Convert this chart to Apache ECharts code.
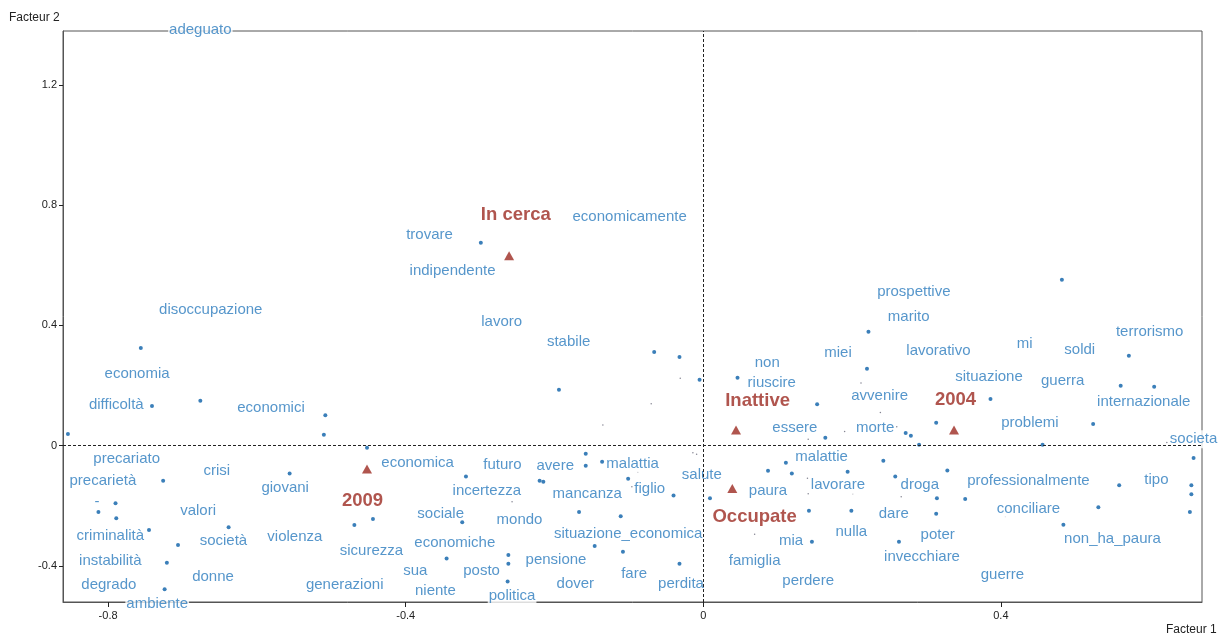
<!DOCTYPE html>
<html>
<head>
<meta charset="utf-8">
<script src="https://cdn.jsdelivr.net/npm/echarts@6/dist/echarts.min.js"></script>
<style>
  html, body { margin: 0; padding: 0; background: #fff; }
  #chart { width: 1228px; height: 635px; }
</style>
</head>
<body>
<div id="chart"></div>
<script>
// axis ticks
var xTicks = [-0.8, -0.4, 0, 0.4];
var yTicks = [-0.4, 0, 0.4, 0.8, 1.2];

// word points (blue dots)
var wordDots = [
    [-0.756, 0.325], [-0.741, 0.132], [-0.676, 0.149], [-0.508, 0.101], [-0.510, 0.036],
    [-0.854, 0.039], [-0.452, -0.007], [-0.726, -0.117], [-0.813, -0.221], [-0.790, -0.192],
    [-0.789, -0.242], [-0.556, -0.093], [-0.745, -0.281], [-0.706, -0.331], [-0.638, -0.272],
    [-0.721, -0.390], [-0.724, -0.478], [-0.469, -0.264], [-0.444, -0.244], [-0.299, 0.675],
    [-0.066, 0.312], [-0.032, 0.295], [-0.005, 0.219], [-0.194, 0.186], [-0.158, -0.027],
    [-0.158, -0.067], [-0.136, -0.054], [-0.319, -0.103], [-0.220, -0.117], [-0.215, -0.120],
    [-0.101, -0.110], [-0.040, -0.166], [0.009, -0.175], [-0.324, -0.255], [-0.167, -0.221],
    [-0.111, -0.235], [-0.146, -0.334], [-0.108, -0.353], [-0.262, -0.364], [-0.262, -0.393],
    [-0.345, -0.376], [-0.032, -0.393], [-0.263, -0.452], [0.482, 0.552], [0.222, 0.379],
    [0.220, 0.256], [0.572, 0.299], [0.046, 0.226], [0.561, 0.199], [0.606, 0.196],
    [0.386, 0.155], [0.153, 0.138], [0.524, 0.072], [0.313, 0.076], [0.272, 0.042],
    [0.279, 0.033], [0.164, 0.026], [0.290, 0.003], [0.456, 0.003], [0.659, -0.041],
    [0.111, -0.057], [0.242, -0.050], [0.087, -0.084], [0.119, -0.093], [0.194, -0.087],
    [0.258, -0.103], [0.328, -0.083], [0.559, -0.132], [0.656, -0.132], [0.656, -0.162],
    [0.654, -0.221], [0.314, -0.175], [0.352, -0.178], [0.142, -0.217], [0.199, -0.217],
    [0.313, -0.227], [0.531, -0.205], [0.484, -0.263], [0.146, -0.320], [0.263, -0.320]
];

// very small points
var specks = [
    [-0.031, 0.224], [-0.070, 0.139], [-0.135, 0.069], [-0.088, -0.089], [-0.096, -0.137],
    [-0.257, -0.187], [0.212, 0.208], [0.238, 0.110], [0.260, 0.063], [0.190, 0.047],
    [0.141, 0.021], [0.623, 0.010], [0.140, -0.109], [0.141, -0.160], [0.201, -0.160],
    [0.266, -0.170], [0.406, -0.237], [0.069, -0.295], [-0.014, -0.024], [-0.009, -0.029]
];

// word labels: [text, x, y]
var wordLabels = [
    ['adeguato', -0.676, 1.391], ['disoccupazione', -0.662, 0.459], ['economia', -0.761, 0.245],
    ['difficoltà', -0.789, 0.142], ['economici', -0.581, 0.132], ['precariato', -0.775, -0.037],
    ['precarietà', -0.807, -0.111], ['-', -0.815, -0.181], ['crisi', -0.654, -0.078],
    ['giovani', -0.562, -0.135], ['valori', -0.679, -0.211], ['criminalità', -0.797, -0.295],
    ['società', -0.645, -0.312], ['violenza', -0.549, -0.297], ['instabilità', -0.797, -0.378],
    ['degrado', -0.799, -0.456], ['donne', -0.659, -0.431], ['ambiente', -0.734, -0.521],
    ['sicurezza', -0.446, -0.342], ['generazioni', -0.482, -0.456], ['economica', -0.384, -0.050],
    ['economicamente', -0.099, 0.769], ['trovare', -0.368, 0.709], ['indipendente', -0.337, 0.587],
    ['lavoro', -0.271, 0.419], ['stabile', -0.181, 0.352], ['futuro', -0.270, -0.057],
    ['avere', -0.199, -0.061], ['malattia', -0.095, -0.054], ['incertezza', -0.291, -0.145],
    ['mancanza', -0.156, -0.155], ['figlio', -0.072, -0.137], ['salute', -0.002, -0.091],
    ['sociale', -0.353, -0.220], ['mondo', -0.247, -0.240], ['situazione_economica', -0.101, -0.286],
    ['economiche', -0.334, -0.316], ['pensione', -0.198, -0.372], ['sua', -0.387, -0.410],
    ['posto', -0.298, -0.411], ['fare', -0.093, -0.420], ['dover', -0.172, -0.453],
    ['perdita', -0.030, -0.453], ['niente', -0.360, -0.478], ['politica', -0.257, -0.494],
    ['prospettive', 0.283, 0.519], ['marito', 0.276, 0.435], ['terrorismo', 0.600, 0.385],
    ['mi', 0.432, 0.345], ['soldi', 0.506, 0.326], ['miei', 0.181, 0.316],
    ['lavorativo', 0.316, 0.323], ['non', 0.086, 0.283], ['riuscire', 0.092, 0.216],
    ['situazione', 0.384, 0.236], ['guerra', 0.483, 0.223], ['avvenire', 0.237, 0.171],
    ['internazionale', 0.592, 0.152], ['problemi', 0.439, 0.081], ['essere', 0.123, 0.066],
    ['morte', 0.231, 0.066], ['societa', 0.659, 0.028], ['malattie', 0.159, -0.031],
    ['paura', 0.087, -0.143], ['lavorare', 0.181, -0.125], ['droga', 0.291, -0.125],
    ['professionalmente', 0.437, -0.110], ['tipo', 0.609, -0.108], ['dare', 0.256, -0.220],
    ['conciliare', 0.437, -0.205], ['nulla', 0.199, -0.281], ['poter', 0.315, -0.291],
    ['non_ha_paura', 0.550, -0.304], ['mia', 0.118, -0.310], ['famiglia', 0.069, -0.377],
    ['invecchiare', 0.294, -0.362], ['guerre', 0.402, -0.425], ['perdere', 0.141, -0.445]
];

// supplementary groups (red triangles)
var groupPoints = [
    [-0.261, 0.632], [-0.452, -0.078], [0.044, 0.052], [0.337, 0.052], [0.039, -0.143]
];
var groupLabels = [
    ['In cerca', -0.252, 0.772], ['2009', -0.458, -0.181], ['Inattive', 0.073, 0.152],
    ['2004', 0.339, 0.157], ['Occupate', 0.069, -0.234]
];

var chart = echarts.init(document.getElementById('chart'));

function toItems(list) {
    return list.map(function (d) {
        return { name: d[0], value: [d[1], d[2]] };
    });
}

var option = {
    animation: false,
    backgroundColor: '#fff',
    grid: {
        left: 63, right: 26, top: 31, bottom: 33,
        show: true,
        borderColor: '#555',
        borderWidth: 1
    },
    graphic: [
        {
            type: 'text', left: 9, top: 12,
            style: { text: 'Facteur 2', fill: '#222', font: '12px "Liberation Sans", Arial' }
        },
        {
            type: 'text', left: 1166, top: 624,
            style: { text: 'Facteur 1', fill: '#222', font: '12px "Liberation Sans", Arial' }
        }
    ],
    xAxis: {
        type: 'value',
        min: -0.8606,
        max: 0.6703,
        splitLine: { show: false },
        axisLine: { onZero: false, lineStyle: { color: '#555' } },
        axisTick: { customValues: xTicks, length: 5, lineStyle: { color: '#222' } },
        axisLabel: { customValues: xTicks, color: '#222', fontSize: 11, margin: 8,
            fontFamily: '"Liberation Sans", Arial' }
    },
    yAxis: {
        type: 'value',
        min: -0.5205,
        max: 1.380,
        splitLine: { show: false },
        axisLine: { onZero: false, lineStyle: { color: '#555' } },
        axisTick: { customValues: yTicks, length: 4, lineStyle: { color: '#222' } },
        axisLabel: { customValues: yTicks, color: '#222', fontSize: 11, margin: 6,
            fontFamily: '"Liberation Sans", Arial' }
    },
    series: [
        {
            name: 'specks',
            type: 'scatter',
            z: 1,
            silent: true,
            symbolSize: 1.5,
            itemStyle: { color: '#667' },
            data: specks,
            markLine: {
                silent: true,
                symbol: ['none', 'none'],
                label: { show: false },
                lineStyle: { type: [3, 2], color: '#222', width: 1 },
                data: [{ xAxis: 0 }, { yAxis: 0 }]
            }
        },
        {
            name: 'words',
            type: 'scatter',
            z: 3,
            clip: false,
            symbolSize: 0,
            data: toItems(wordLabels),
            label: {
                show: true,
                position: 'inside',
                offset: [0, 2],
                formatter: '{b}',
                color: '#2c7cbe',
                fontSize: 15,
                fontFamily: '"Liberation Sans", Arial',
                backgroundColor: '#fff',
                padding: [2, 1, 1, 1]
            }
        },
        {
            name: 'dots',
            type: 'scatter',
            z: 4,
            symbolSize: 4,
            itemStyle: { color: '#0a5fa8' },
            data: wordDots
        },
        {
            name: 'groupText',
            type: 'scatter',
            z: 3,
            symbolSize: 0,
            data: toItems(groupLabels),
            label: {
                show: true,
                position: 'inside',
                offset: [0, 1],
                formatter: '{b}',
                color: '#9c2a22',
                fontSize: 18.5,
                fontWeight: 'bold',
                fontFamily: '"Liberation Sans", Arial',
                backgroundColor: '#fff',
                padding: [2, 1, 0, 1]
            }
        },
        {
            name: 'groups',
            type: 'scatter',
            z: 4,
            symbol: 'triangle',
            symbolSize: [10, 9],
            itemStyle: { color: '#9c2a22' },
            data: groupPoints
        }
    ]
};
chart.setOption(option);
</script>
</body>
</html>
